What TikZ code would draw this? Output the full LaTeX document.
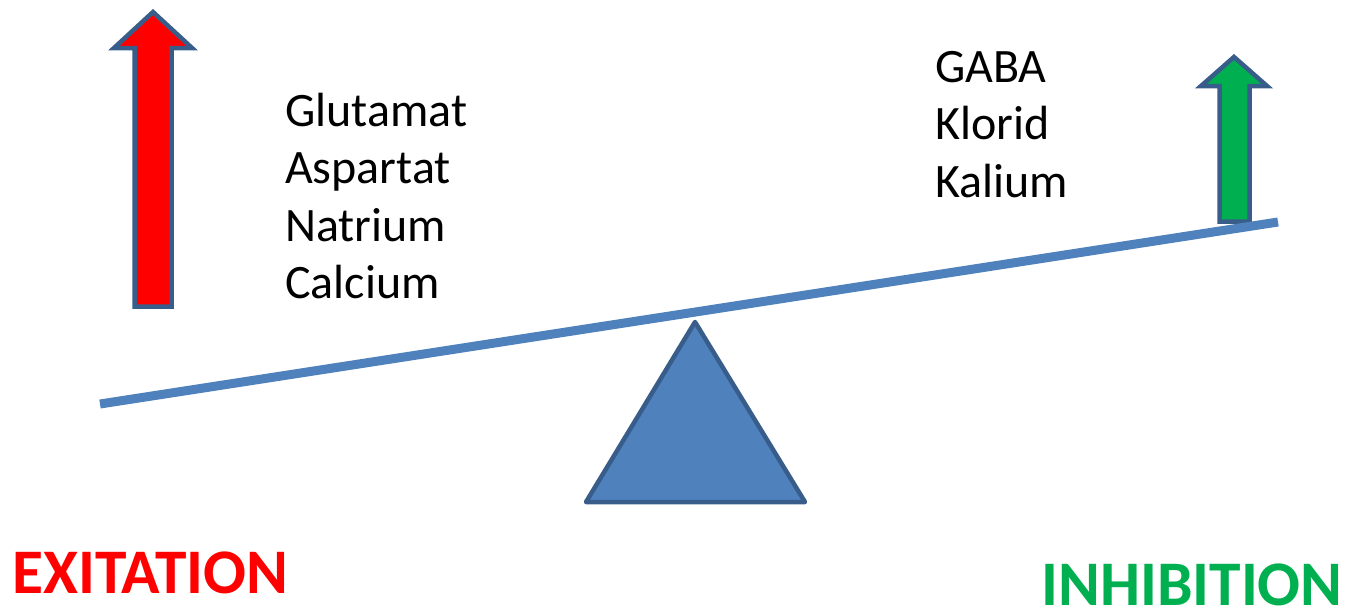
\documentclass[tikz,border=0pt]{standalone}
\usepackage{fontspec}
\setmainfont{Carlito}
\begin{document}
\begin{tikzpicture}[x=1pt,y=-1pt,
  outline/.style={draw=arrowblue,line width=4.5pt,line join=miter},
  listtext/.style={anchor=base west,inner sep=0pt,font=\fontsize{48}{57}\selectfont},
  bigword/.style={anchor=base west,inner sep=0pt,font=\fontsize{63.5}{70}\selectfont\bfseries}]
\definecolor{arrowblue}{HTML}{385D8A}
\definecolor{beamblue}{HTML}{4F81BD}
\definecolor{exred}{HTML}{FF0000}
\definecolor{ingreen}{HTML}{00B050}
\useasboundingbox (0,0) rectangle (1350,614);

% excitation arrow
\fill[exred] (153,12) -- (192,48) -- (171.5,48) -- (171.5,306.5) -- (134.5,306.5)
  -- (134.5,48) -- (114,48) -- cycle;
\draw[outline] (153,12) -- (192,48) -- (171.5,48) -- (171.5,306.5) -- (134.5,306.5)
  -- (134.5,48) -- (114,48) -- cycle;

% inhibition arrow
\fill[ingreen] (1234,57) -- (1267,86) -- (1249.5,86) -- (1249.5,221.5) -- (1219.5,221.5)
  -- (1219.5,86) -- (1201,86) -- cycle;
\draw[outline] (1234,57) -- (1267,86) -- (1249.5,86) -- (1249.5,221.5) -- (1219.5,221.5)
  -- (1219.5,86) -- (1201,86) -- cycle;

% seesaw beam
\coordinate (beamL) at (100,404);
\coordinate (beamR) at (1278,222);
\draw[beamblue,line width=9pt] (beamL) -- (beamR);

% fulcrum
\filldraw[fill=beamblue,draw=arrowblue,line width=4.5pt,line join=round]
  (695,322) -- (805,502) -- (586,502) -- cycle;

% substances
\node[listtext] (glu) at (285,126) {Glutamat};
\node[listtext] (asp) at (285,183.5) {Aspartat};
\node[listtext] (nat) at (285,241) {Natrium};
\node[listtext] (cal) at (285,298) {Calcium};

\node[listtext] (gaba) at (935,82) {GABA};
\node[listtext] (klo) at (935,139.5) {Klorid};
\node[listtext] (kal) at (935,197) {Kalium};

% side labels
\node[bigword,text=exred] (exi) at (12,593) {EXITATION};
\node[bigword,text=ingreen] (inh) at (1041,605) {INHIBITION};
\end{tikzpicture}
\end{document}
